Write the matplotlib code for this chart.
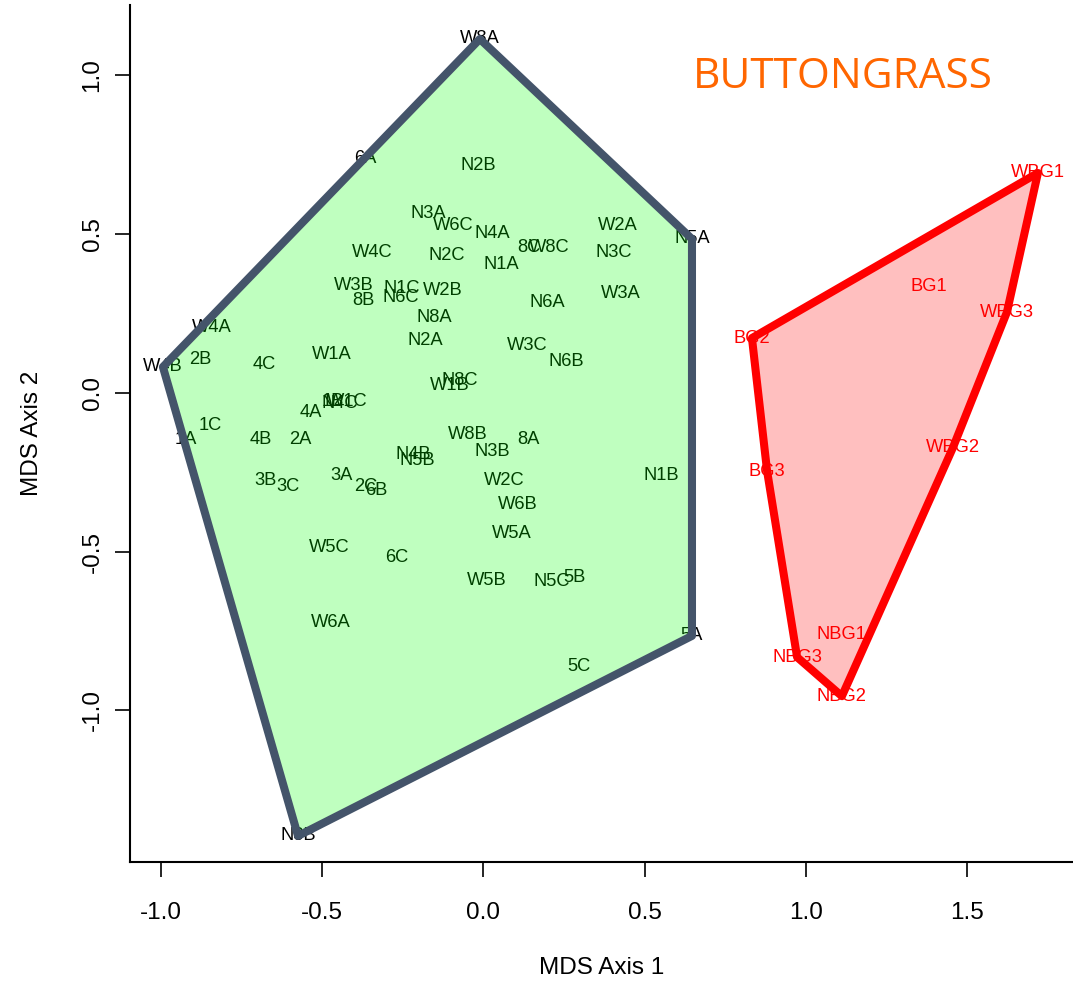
import matplotlib
matplotlib.use("Agg")
import matplotlib.pyplot as plt
from matplotlib.patches import Polygon

plt.rcParams['font.family'] = ['Liberation Sans', 'DejaVu Sans']

# MDS scores: non-buttongrass plots
site_labels = [
    "W8A", "6A", "N2B", "N3A", "W6C", "N4A", "8C", "W8C", "W2A", "N3C", "N5A",
    "W4C", "N2C", "N1A", "W3B", "N1C", "W2B", "8B", "N6C", "N8A", "N6A", "W3A",
    "W4A", "W4B", "2B", "4C", "W1A", "N2A", "W3C", "N6B", "W1B", "N8C",
    "1B", "N4C", "W1C", "4A", "1C", "1A", "4B", "2A", "W8B", "8A", "N3B",
    "N4B", "N5B", "W2C", "N1B", "3B", "3C", "3A", "2C", "6B", "W6B", "W5A",
    "W5C", "6C", "W5B", "N5C", "5B", "W6A", "5A", "5C", "N8B",
]
site_x = [
    -0.011, -0.367, -0.017, -0.172, -0.094, 0.027, 0.141, 0.204, 0.417, 0.405, 0.647,
    -0.346, -0.113, 0.055, -0.402, -0.253, -0.125, -0.373, -0.256, -0.153, 0.197, 0.427,
    -0.842, -0.994, -0.879, -0.681, -0.470, -0.181, 0.135, 0.256, -0.104, -0.073,
    -0.467, -0.445, -0.423, -0.535, -0.848, -0.922, -0.690, -0.569, -0.048, 0.141, 0.027,
    -0.218, -0.206, 0.064, 0.551, -0.677, -0.606, -0.439, -0.364, -0.333, 0.107, 0.089,
    -0.479, -0.268, 0.011, 0.213, 0.284, -0.473, 0.647, 0.297, -0.575,
]
site_y = [
    1.115, 0.737, 0.715, 0.564, 0.526, 0.501, 0.457, 0.457, 0.529, 0.441, 0.485,
    0.441, 0.432, 0.406, 0.340, 0.328, 0.324, 0.290, 0.302, 0.239, 0.284, 0.312,
    0.205, 0.082, 0.107, 0.091, 0.120, 0.164, 0.151, 0.098, 0.025, 0.038,
    -0.028, -0.032, -0.028, -0.060, -0.101, -0.145, -0.145, -0.145, -0.132, -0.145, -0.183,
    -0.195, -0.214, -0.277, -0.261, -0.277, -0.293, -0.261, -0.296, -0.306, -0.350, -0.441,
    -0.488, -0.517, -0.592, -0.595, -0.580, -0.724, -0.765, -0.863, -1.395,
]

# MDS scores: buttongrass plots
bg_labels = ["WBG1", "BG1", "WBG3", "BG2", "WBG2", "BG3", "NBG1", "NBG3", "NBG2"]
bg_x = [1.720, 1.382, 1.624, 0.833, 1.456, 0.880, 1.112, 0.973, 1.112]
bg_y = [0.693, 0.334, 0.255, 0.173, -0.173, -0.246, -0.762, -0.832, -0.955]

x_ticks = [-1.0, -0.5, 0.0, 0.5, 1.0, 1.5]
y_ticks = [-1.0, -0.5, 0.0, 0.5, 1.0]


def convex_hull(xs, ys):
    pts = sorted(set(zip(xs, ys)))

    def cross(o, a, b):
        return (a[0] - o[0]) * (b[1] - o[1]) - (a[1] - o[1]) * (b[0] - o[0])

    lower, upper = [], []
    for p in pts:
        while len(lower) >= 2 and cross(lower[-2], lower[-1], p) <= 0:
            lower.pop()
        lower.append(p)
    for p in reversed(pts):
        while len(upper) >= 2 and cross(upper[-2], upper[-1], p) <= 0:
            upper.pop()
        upper.append(p)
    return lower[:-1] + upper[:-1]


W, H = 1073, 983
fig = plt.figure(figsize=(W / 100, H / 100), dpi=100)
ax = fig.add_axes([130 / W, (H - 862) / H, (W - 130) / W, (862 - 5) / H])
ax.set_xlim(-1.0961, 1.8288)
ax.set_ylim(-1.4772, 1.2220)

label_size = 13.2
for lab, x, y in zip(site_labels, site_x, site_y):
    ax.text(x, y, lab, ha="center", va="center", fontsize=label_size,
            color="black", zorder=1)
for lab, x, y in zip(bg_labels, bg_x, bg_y):
    ax.text(x, y, lab, ha="center", va="center", fontsize=label_size,
            color="red", zorder=1)

# translucent hulls laid over the labels
hull_site = convex_hull(site_x, site_y)
ax.add_patch(Polygon(hull_site, closed=True, facecolor=(0, 1, 0, 0.25),
                     edgecolor="none", zorder=2))
ax.add_patch(Polygon(hull_site, closed=True, facecolor="none",
                     edgecolor="#44546A", linewidth=5.8, joinstyle="round",
                     zorder=3))
hull_bg = convex_hull(bg_x, bg_y)
ax.add_patch(Polygon(hull_bg, closed=True, facecolor=(1, 0, 0, 0.25),
                     edgecolor="none", zorder=2))
ax.add_patch(Polygon(hull_bg, closed=True, facecolor="none",
                     edgecolor="#FF0000", linewidth=5.8, joinstyle="round",
                     zorder=3))

ax.text(843, H - 77, "BUTTONGRASS", transform=None, ha="center", va="center",
        fontsize=30.5, color="#FF6600", family=["Open Sans", "DejaVu Sans"])

for s in ("top", "right"):
    ax.spines[s].set_visible(False)
for s in ("left", "bottom"):
    ax.spines[s].set_linewidth(1.5)

ax.set_xticks(x_ticks)
ax.set_xticklabels([f"{v:.1f}" for v in x_ticks])
ax.set_yticks(y_ticks)
ax.set_yticklabels([f"{v:.1f}" for v in y_ticks], rotation=90, va="center")
ax.tick_params(direction="out", length=10.5, width=1.2, labelsize=17.5)
ax.tick_params(axis="x", pad=18)
ax.tick_params(axis="y", pad=8.5)

fig.text(601.5 / W, 1 - 968 / H, "MDS Axis 1", ha="center", va="center",
         fontsize=17.5)
fig.text(32 / W, 1 - 433.5 / H, "MDS Axis 2", ha="center", va="center",
         rotation=90, fontsize=17.5)

fig.savefig("out.png", dpi=100)
